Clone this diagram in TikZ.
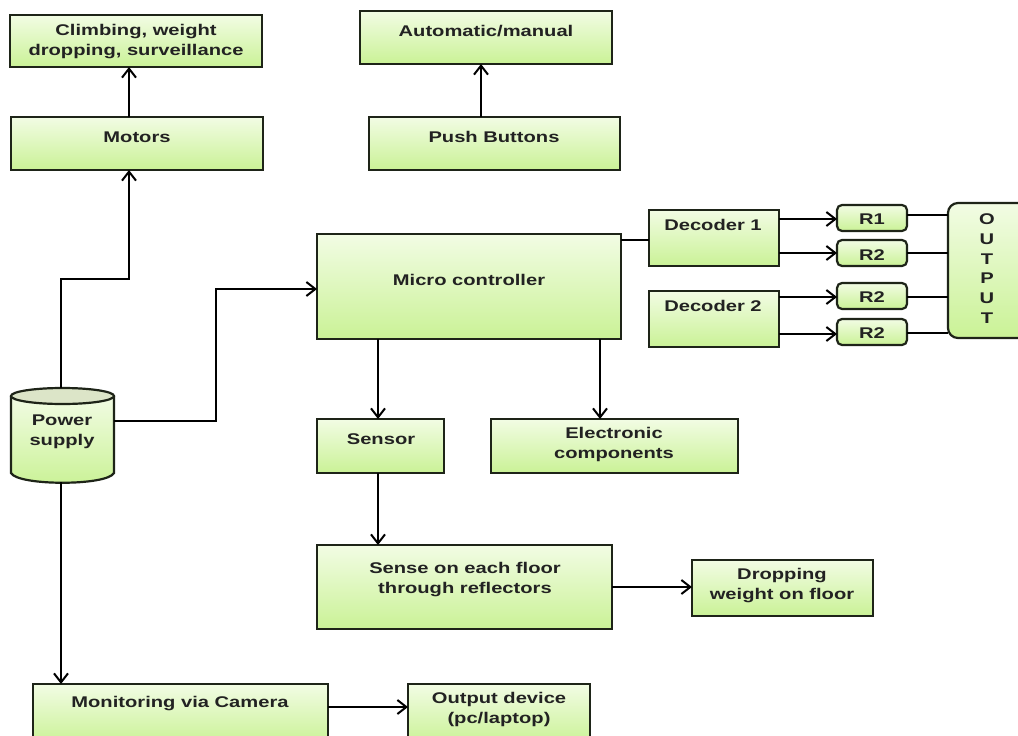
\documentclass[tikz,border=0pt]{standalone}
\usepackage{fontspec}
\setmainfont{Liberation Sans}
\newfontfamily\wideb[FakeStretch=1.3,BoldFont={Liberation Sans Bold}]{Liberation Sans}
\usetikzlibrary{arrows.meta}
\definecolor{gtop}{HTML}{F2FCE4}
\definecolor{gmid}{HTML}{EAFAD4}
\definecolor{gbot}{HTML}{CAF296}
\definecolor{lid}{HTML}{DCE5C8}
\definecolor{edge}{HTML}{1E2418}
\definecolor{txtc}{HTML}{222222}
\tikzset{
  x=1pt,y=-1pt,
  box/.style={draw=edge,line width=2.2pt,top color=gtop,middle color=gmid,bottom color=gbot,inner sep=0pt,outer sep=0pt},
  rbox/.style={box,rounded corners=5pt},
  txt/.style={font=\fontsize{15.5}{20}\wideb\bfseries,text=txtc,align=center,inner sep=0pt,outer sep=0pt,yshift=-1pt},
  conn/.style={line width=2pt,draw=black},
  arr/.style={conn,-{Straight Barb[length=9pt,width=14pt,line width=2pt]}}
}
\begin{document}
\begin{tikzpicture}
\useasboundingbox (0,0) rectangle (1018,736);
\clip (0,0) rectangle (1018,736);
\fill[white] (0,0) rectangle (1018,736);

\node[box,minimum width=252,minimum height=52] (climb) at (136,41) {};
\node[txt] (climbt) at (136,41) {Climbing, weight\\dropping, surveillance};
\node[box,minimum width=252,minimum height=53] (motors) at (137,143.5) {};
\node[txt] (motorst) at (137,136) {Motors};
\node[box,minimum width=252,minimum height=53] (auto) at (486,37.5) {};
\node[txt] (autot) at (486,30) {Automatic/manual};
\node[box,minimum width=251,minimum height=53] (push) at (494.5,143.5) {};
\node[txt] (pusht) at (494,136) {Push Buttons};
\node[box,minimum width=304,minimum height=105] (micro) at (469,286.5) {};
\node[txt] (microt) at (469,279) {Micro controller};
\node[box,minimum width=130,minimum height=56] (dec1) at (714,238) {};
\node[txt] (dec1t) at (713,224) {Decoder 1};
\node[box,minimum width=130,minimum height=56] (dec2) at (714,319) {};
\node[txt] (dec2t) at (713,305) {Decoder 2};
\node[rbox,minimum width=70,minimum height=26] (r1) at (872,218) {};
\node[txt] (r1t) at (872,218) {R1};
\node[rbox,minimum width=70,minimum height=26] (r2a) at (872,253) {};
\node[txt] (r2at) at (872,254) {R2};
\node[rbox,minimum width=70,minimum height=26] (r2b) at (872,296) {};
\node[txt] (r2bt) at (872,296) {R2};
\node[rbox,minimum width=70,minimum height=26] (r2c) at (872,332) {};
\node[txt] (r2ct) at (872,332) {R2};
\node[box,rounded corners=10pt,minimum width=80,minimum height=135] (out) at (988,270.5) {};
\node[txt,font=\fontsize{15.5}{19.8}\wideb\bfseries] (outt) at (987,267.5) {O\\U\\T\\P\\U\\T};
\node[box,minimum width=127,minimum height=54] (sensor) at (380.5,446) {};
\node[txt] (sensort) at (381,438) {Sensor};
\node[box,minimum width=247,minimum height=54] (elec) at (614.5,446) {};
\node[txt] (elect) at (614,443) {Electronic\\components};
\node[box,minimum width=295,minimum height=84] (sense) at (464.5,587) {};
\node[txt] (senset) at (465,579) {Sense on each floor\\through reflectors};
\node[box,minimum width=181,minimum height=56] (drop) at (782.5,588) {};
\node[txt] (dropt) at (782,585) {Dropping\\weight on floor};
\node[box,minimum width=295,minimum height=60] (mon) at (180.5,714) {};
\node[txt] (mont) at (180,703) {Monitoring via Camera};
\node[box,minimum width=182,minimum height=60] (dev) at (499,714) {};
\node[txt] (devt) at (499,708.5) {Output device\\(pc/laptop)};

% power supply: a frame node, with the drum drawn on it
\node[minimum width=103,minimum height=94,inner sep=0pt,outer sep=0pt] (power) at (62.5,435) {};
\shade[top color=gtop,middle color=gmid,bottom color=gbot]
  (11,396) -- (11,473) .. controls (18,486) and (107,486) .. (114,473) -- (114,396) -- cycle;
\draw[draw=edge,line width=2.2pt]
  (11,396) -- (11,473) .. controls (18,486) and (107,486) .. (114,473) -- (114,396);
\draw[draw=edge,line width=2.2pt,fill=lid] (62.5,396) ellipse (51.5 and 8);
\node[txt] (powert) at (62,431) {Power\\supply};

% connectors
\coordinate (c1) at (129,279);
\coordinate (c0) at (61,279);
\draw[arr] ([xshift=-1.5pt]power.north) -- (c0) -- (c1) -- ([xshift=-8pt]motors.south);
\coordinate (c2) at (216,421);
\coordinate (c3) at (216,289);
\draw[arr] (c2 -| power.east) -- (c2) -- (c3) -- (c3 -| micro.west);
\draw[arr] ([xshift=-1.5pt]power.south) -- ([xshift=-119.5pt]mon.north);
\draw[arr] ([xshift=-8pt]motors.north) -- ([xshift=-7pt]climb.south);
\draw[arr] ([xshift=-13.5pt]push.north) -- ([xshift=-5pt]auto.south);
\coordinate (m1) at (378,339);
\coordinate (m2) at (600,339);
\draw[arr] (m1 |- micro.south) -- (m1 |- sensor.north);
\draw[arr] (m2 |- micro.south) -- (m2 |- elec.north);
\draw[arr] (m1 |- sensor.south) -- (m1 |- sense.north);
\coordinate (s1) at (612,587);
\draw[arr] (s1 -| sense.east) -- (s1 -| drop.west);
\coordinate (s2) at (328,707);
\draw[arr] (s2 -| mon.east) -- (s2 -| dev.west);
\coordinate (k0) at (640,240);
\draw[conn] (k0 -| micro.east) -- (k0 -| dec1.west);
\coordinate (a1) at (800,219);
\coordinate (a2) at (800,253);
\coordinate (a3) at (800,297);
\coordinate (a4) at (800,334);
\draw[arr] (a1 -| dec1.east) -- (a1 -| r1.west);
\draw[arr] (a2 -| dec1.east) -- (a2 -| r2a.west);
\draw[arr] (a3 -| dec2.east) -- (a3 -| r2b.west);
\draw[arr] (a4 -| dec2.east) -- (a4 -| r2c.west);
\coordinate (b1) at (930,215);
\coordinate (b2) at (930,253);
\coordinate (b3) at (930,297);
\coordinate (b4) at (930,333);
\draw[conn] (b1 -| r1.east) -- (b1 -| out.west);
\draw[conn] (b2 -| r2a.east) -- (b2 -| out.west);
\draw[conn] (b3 -| r2b.east) -- (b3 -| out.west);
\draw[conn] (b4 -| r2c.east) -- (b4 -| out.west);
\end{tikzpicture}
\end{document}
